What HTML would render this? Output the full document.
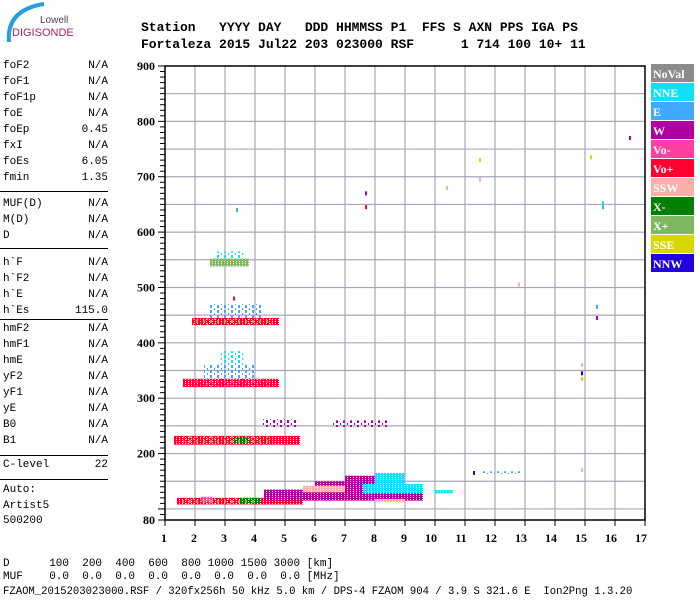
<!DOCTYPE html>
<html><head><meta charset="utf-8"><style>
body{margin:0;background:#fff;}
#root{position:relative;width:700px;height:600px;overflow:hidden;background:#fff;font-family:"Liberation Mono",monospace;}
.t{position:absolute;white-space:pre;}
.hdr{font-family:"Liberation Mono",monospace;font-weight:bold;font-size:13px;color:#000;}
.lp{position:absolute;left:3px;width:105px;font-size:11px;color:#000;height:16px;}
.lp span{position:absolute;right:0;top:0;}
.sep{position:absolute;left:0;width:108px;height:0;border-top:1px solid #000;}
.bot{font-size:11px;color:#000;}
</style></head><body>
<div id="root">
<svg width="110" height="45" style="position:absolute;left:0;top:0">
<path d="M9 42 Q6 10 44 4" stroke="#20a0e0" stroke-width="4" fill="none"/>
<text x="40" y="23" font-family="Liberation Sans,sans-serif" font-size="10" fill="#404060">Lowell</text>
<text x="12" y="36" font-family="Liberation Sans,sans-serif" font-size="11" fill="#b02060">DIGISONDE</text>
</svg>
<div class="t hdr" style="left:141px;top:20px">Station   YYYY DAY   DDD HHMMSS P1  FFS S AXN PPS IGA PS</div>
<div class="t hdr" style="left:141px;top:37px">Fortaleza 2015 Jul22 203 023000 RSF      1 714 100 10+ 11</div>
<div id="left"></div>
<svg id="chart" width="700" height="600" style="position:absolute;left:0;top:0"></svg>
<div class="t bot" style="left:3px;top:558px">D      100  200  400  600  800 1000 1500 3000 [km]</div>
<div class="t bot" style="left:3px;top:571px">MUF    0.0  0.0  0.0  0.0  0.0  0.0  0.0  0.0 [MHz]</div>
<div class="t bot" style="left:3px;top:586px;font-size:10.6px">FZAOM_2015203023000.RSF / 320fx256h 50 kHz 5.0 km / DPS-4 FZAOM 904 / 3.9 S 321.6 E  Ion2Png 1.3.20</div>
</div>
<script>
const paramNames=["foF2","foF1","foF1p","foE","foEp","fxI","foEs","fmin","MUF(D)","M(D)","D","h`F","h`F2","h`E","h`Es","hmF2","hmF1","hmE","yF2","yF1","yE","B0","B1","C-level","Auto:","Artist5","500200"];
const paramVals=["N/A","N/A","N/A","N/A","0.45","N/A","6.05","1.35","N/A","N/A","N/A","N/A","N/A","N/A","115.0","N/A","N/A","N/A","N/A","N/A","N/A","N/A","N/A","22","","",""];
const paramTops=[60,76,92,108,124,140,156,172,198,214,230,257,273,289,305,323,339,355,371,387,403,419,435,459,484,500,515];
const sepTops=[191,248,319,455,479];
const xTicks=[1,2,3,4,5,6,7,8,9,10,11,12,13,14,15,16,17];
const yTickLabels=[80,200,300,400,500,600,700,800,900];
const legendNames=["NoVal","NNE","E","W","Vo-","Vo+","SSW","X-","X+","SSE","NNW"];
const legendColors=["#8c8c8c","#10e0f8","#40a8ff","#b000a0","#ff40a0","#ff0030","#f8b0a8","#008000","#80b860","#d8d800","#2000e0"];
// echo bands: freq start/end (MHz), height low/high (km), polarization/direction
const bandF0=[1.4,3.5,2.2,4.3,6.0,7.0,5.6,8.0,7.6,8.0,10.0,1.3,3.3,1.6,1.9,2.5];
const bandF1=[5.6,4.2,2.6,9.6,9.0,8.5,7.0,9.0,9.6,9.0,10.6,5.5,3.8,4.8,4.8,3.8];
const bandH0=[108,110,112,115,135,150,130,112,128,145,128,216,218,320,432,538];
const bandH1=[120,120,122,135,150,160,142,118,145,165,134,232,228,335,445,552];
const bandC=["Vo+","X-","Vo-","W","W","W","SSW","SSW","NNE","NNE","NNE","Vo+","X-","Vo+","Vo+","X+"];
// sparse scatter regions
const sparseF0=[4.2,6.6,2.3,2.8,2.5,2.7,1.6,11.6,1.5,2.0,1.9];
const sparseF1=[5.4,8.4,4.0,3.6,4.2,3.6,4.5,12.9,4.0,4.5,4.6];
const sparseH0=[248,248,335,360,445,552,218,163,108,320,432];
const sparseH1=[262,260,360,385,470,565,232,168,120,335,445];
const sparseC=["W","W","E","NNE","E","NNE","X+","E","X+","Vo-","X+"];
// isolated echoes
const dotF=[3.4,7.7,7.7,10.4,11.5,11.5,12.8,15.2,15.6,15.6,15.4,15.4,14.9,14.9,14.9,16.5,11.3,14.9,3.3];
const dotH=[640,670,645,680,730,695,505,735,645,652,465,445,345,360,335,770,165,170,480];
const dotC=["E","W","Vo+","SSW","SSE","SSW","SSW","SSE","E","NNE","E","W","NNW","SSW","SSE","W","NNW","SSW","Vo+"];

const NS="http://www.w3.org/2000/svg";
const X0=165,X1=645,Y0=520,Y1=66;
function xs(f){return X0+(f-1)*(X1-X0)/16;}
function ys(h){return Y0-(h-80)*(Y0-Y1)/820;}
function col(n){return legendColors[legendNames.indexOf(n)];}
const svg=document.getElementById('chart');
function mk(tag,attrs,parent){const e=document.createElementNS(NS,tag);for(const k in attrs)e.setAttribute(k,attrs[k]);(parent||svg).appendChild(e);return e;}

const left=document.getElementById('left');
paramNames.forEach((n,i)=>{
  const d=document.createElement('div');d.className='lp';d.style.top=paramTops[i]+'px';
  
  
  d.innerHTML=n+'<span>'+paramVals[i]+'</span>';left.appendChild(d);
});
sepTops.forEach(t=>{const s=document.createElement('div');s.className='sep';s.style.top=t+'px';
  
  
  left.appendChild(s);});

const defs=mk('defs',{});
legendNames.forEach((n,i)=>{
  const p=mk('pattern',{id:'pd'+i,width:3,height:2,patternUnits:'userSpaceOnUse'},defs);
  mk('rect',{x:0,y:0,width:2,height:2,fill:legendColors[i]},p);
  mk('rect',{x:2,y:0,width:1,height:1,fill:legendColors[i]},p);
  const q=mk('pattern',{id:'ps'+i,width:7,height:5,patternUnits:'userSpaceOnUse'},defs);
  mk('rect',{x:0,y:0,width:2,height:3,fill:legendColors[i]},q);
  mk('rect',{x:4,y:3,width:1,height:2,fill:legendColors[i]},q);
});

const g=mk('g',{});


for(let h=100;h<900;h+=50)mk('line',{x1:X0,x2:X1,y1:ys(h),y2:ys(h),stroke:'#a8a8b8','stroke-width':1.2},g);
for(let f=2;f<17;f++)mk('line',{x1:xs(f),x2:xs(f),y1:Y1,y2:Y0,stroke:'#a8a8b8','stroke-width':1.2},g);

bandF0.forEach((f0,i)=>{
  const r=mk('rect',{x:xs(f0),y:ys(bandH1[i]),width:xs(bandF1[i])-xs(f0),height:ys(bandH0[i])-ys(bandH1[i]),fill:'url(#pd'+legendNames.indexOf(bandC[i])+')'});
  
  
});
sparseF0.forEach((f0,i)=>{
  const r=mk('rect',{x:xs(f0),y:ys(sparseH1[i]),width:xs(sparseF1[i])-xs(f0),height:ys(sparseH0[i])-ys(sparseH1[i]),fill:'url(#ps'+legendNames.indexOf(sparseC[i])+')'});
  
  
});
dotF.forEach((f,i)=>{
  const r=mk('rect',{x:xs(f)-1,y:ys(dotH[i])-2,width:2,height:4,fill:col(dotC[i])});
  
  
});

mk('rect',{x:X0,y:Y1,width:X1-X0,height:Y0-Y1,fill:'none',stroke:'#000','stroke-width':1.5});
for(let h=80;h<=900;h+=10){const big=h%100===0||h===80;mk('line',{x1:X0-(big?7:5),x2:X0,y1:ys(h),y2:ys(h),stroke:'#000','stroke-width':1});}
yTickLabels.forEach(v=>{
  const t=mk('text',{x:155,y:ys(v)+4,'text-anchor':'end','font-family':'Liberation Serif,serif','font-weight':'bold','font-size':12});
  t.textContent=v;
  
  
});
xTicks.forEach(v=>{
  mk('line',{x1:xs(v),x2:xs(v),y1:Y0,y2:Y0+6,stroke:'#000','stroke-width':1});
  const t=mk('text',{x:xs(v)-(v>9?4:1),y:542,'text-anchor':'middle','font-family':'Liberation Serif,serif','font-weight':'bold','font-size':12});
  t.textContent=v;
  
  
});

legendNames.forEach((n,i)=>{
  const y=64+i*19;
  const r=mk('rect',{x:651,y:y,width:43,height:18,fill:legendColors[i]});
  
  
  const t=mk('text',{x:653,y:y+14,fill:'#fff','font-family':'Liberation Serif,serif','font-weight':'bold','font-size':12});
  t.textContent=n;
  
  
});
</script>
</body></html>
